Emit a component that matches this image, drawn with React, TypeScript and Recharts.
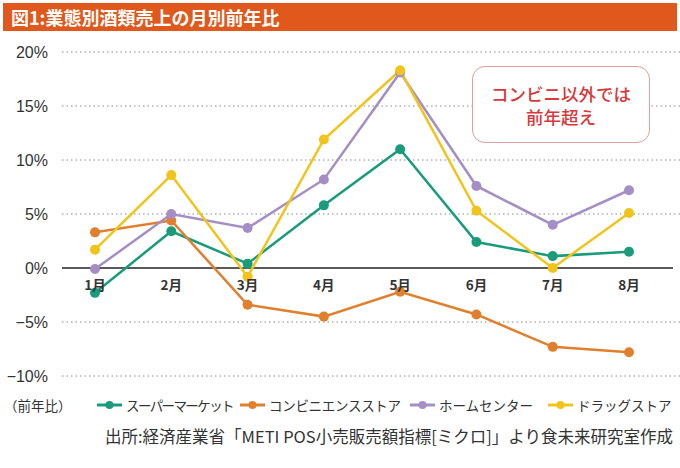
import React from 'react';
import { LineChart, Line, XAxis, YAxis, CartesianGrid } from 'recharts';

const months = ['1月', '2月', '3月', '4月', '5月', '6月', '7月', '8月'];
const supermarket = [-2.3, 3.4, 0.4, 5.8, 11.0, 2.4, 1.1, 1.5];
const convenience = [3.3, 4.4, -3.4, -4.5, -2.2, -4.3, -7.3, -7.8];
const homeCenter = [-0.1, 5.0, 3.7, 8.2, 18.1, 7.6, 4.0, 7.2];
const drugstore = [1.7, 8.6, -0.8, 11.9, 18.3, 5.3, 0.0, 5.1];
const yTicks = [-10, -5, 0, 5, 10, 15, 20];

const seriesList = [
  { key: 'super', name: 'スーパーマーケット', color: '#1a9b7b', values: supermarket, lx: 97, ls: -1.6 },
  { key: 'conv', name: 'コンビニエンスストア', color: '#e0802e', values: convenience, lx: 240, ls: -0.3 },
  { key: 'home', name: 'ホームセンター', color: '#a58dc6', values: homeCenter, lx: 410, ls: 0 },
  { key: 'drug', name: 'ドラッグストア', color: '#f1c41c', values: drugstore, lx: 548, ls: 0 },
];

const data = months.map((m, i) => {
  const row: Record<string, string | number> = { month: m };
  seriesList.forEach(s => { row[s.key] = s.values[i]; });
  return row;
});

const FONT = '"Noto Sans CJK JP", "Liberation Sans", sans-serif';

// plot area: 20% at y=52, -10% at y=376
const PLOT_TOP = 52;
const PLOT_H = 324;
const X_AXIS_H = 20;
const ZERO_Y = PLOT_TOP + PLOT_H * (20 / 30);

const MonthTick = (props: any) => {
  const { x, payload } = props;
  return (
    <text x={x} y={ZERO_Y + 22} textAnchor="middle" fontSize={13.5} fontWeight={600}
      fill="#333" fontFamily={FONT}>
      {payload.value}
    </text>
  );
};

// grid rows: dotted, except the 0% row which is a solid dark baseline
const GridRow = (props: any) => {
  const { x1, y1, x2, y2 } = props;
  if (Math.abs(y1 - ZERO_Y) < 1) {
    return <line key={`row-${y1}`} x1={x1} y1={y1} x2={x2 - 7} y2={y2} stroke="#222" strokeWidth={1.6} />;
  }
  return <line key={`row-${y1}`} x1={x1} y1={y1} x2={x2} y2={y2} stroke="#888" strokeWidth={1} strokeDasharray="1.5 3" />;
};

const fmtY = (v: number) => (v < 0 ? `−${-v}%` : `${v}%`);

const App: React.FC = () => {
  return (
    <div style={{ position: 'absolute', left: 0, top: 0, width: 680, height: 468, background: '#fff', fontFamily: FONT }}>
      <div style={{
        position: 'absolute', left: 3, top: 3, width: 674, height: 28, background: '#e0581c',
        color: '#fff', fontSize: 18, fontWeight: 700, lineHeight: '28px', paddingLeft: 8, boxSizing: 'border-box',
      }}>
        図1:業態別酒類売上の月別前年比
      </div>

      <LineChart width={680} height={468} data={data}
        margin={{ top: PLOT_TOP, right: 0, bottom: 468 - PLOT_TOP - PLOT_H - X_AXIS_H, left: 0 }}>
        <CartesianGrid vertical={false} horizontal={(p: any) => <GridRow {...p} />} />
        <XAxis dataKey="month" height={X_AXIS_H} axisLine={false} tickLine={false}
          padding={{ left: 33, right: 51 }} tick={<MonthTick />} interval={0} />
        <YAxis width={62} domain={[-10, 20]} ticks={yTicks} axisLine={false} tickLine={false}
          tickFormatter={fmtY} tickMargin={8}
          tick={{ fontSize: 16, fill: '#333', fontFamily: '"Liberation Sans", sans-serif' }} />
        {seriesList.map(s => (
          <Line key={s.key} dataKey={s.key} name={s.name} stroke={s.color} strokeWidth={2.5}
            dot={{ r: 5, fill: s.color, stroke: s.color, strokeWidth: 0 }}
            activeDot={false} isAnimationActive={false} type="linear" />
        ))}
      </LineChart>

      <div style={{
        position: 'absolute', left: 472, top: 66, width: 178, height: 77, boxSizing: 'border-box',
        border: '1.5px solid #dca0a0', borderRadius: 13, background: '#fff',
        display: 'flex', flexDirection: 'column', alignItems: 'center', justifyContent: 'center',
        color: '#d8373b', fontSize: 17.5, fontWeight: 500, lineHeight: '23px',
      }}>
        <div>コンビニ以外では</div>
        <div>前年超え</div>
      </div>

      <div style={{ position: 'absolute', left: 4, top: 395, fontSize: 13.5, color: '#333', lineHeight: '20px' }}>
        （前年比）
      </div>
      {seriesList.map(s => (
        <div key={s.key} style={{
          position: 'absolute', left: s.lx, top: 395, display: 'flex', alignItems: 'center',
          fontSize: 13.5, color: '#333', lineHeight: '20px', whiteSpace: 'nowrap',
        }}>
          <svg width={25} height={12} style={{ marginRight: 4 }}>
            <line x1={0} y1={6} x2={25} y2={6} stroke={s.color} strokeWidth={3} />
            <circle cx={12.5} cy={6} r={4} fill={s.color} />
          </svg>
          <span style={{ letterSpacing: s.ls }}>{s.name}</span>
        </div>
      ))}

      <div style={{
        position: 'absolute', right: 7, top: 425, fontSize: 16.5, color: '#333', lineHeight: '22px', whiteSpace: 'nowrap',
      }}>
        出所:経済産業省「METI POS小売販売額指標[ミクロ]」より食未来研究室作成
      </div>
    </div>
  );
};

export default App;
